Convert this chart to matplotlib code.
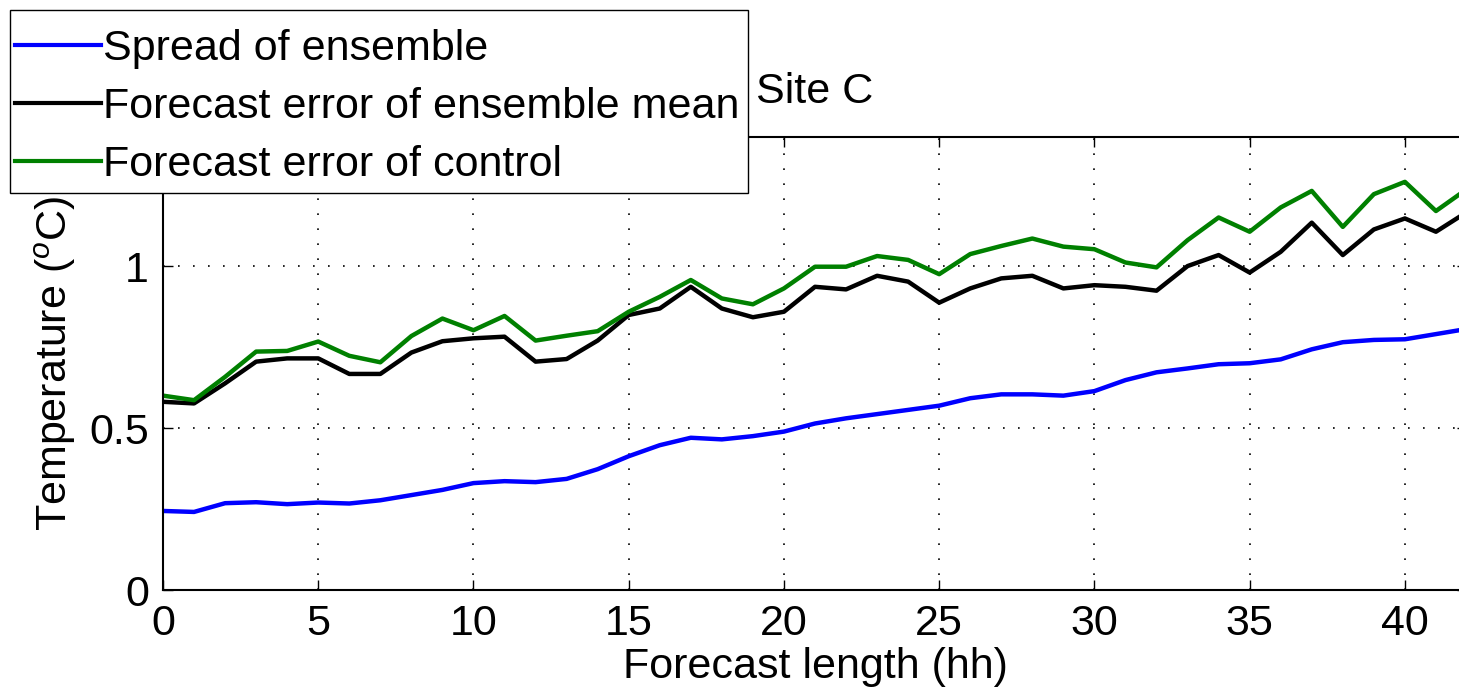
import matplotlib
matplotlib.use("Agg")
import matplotlib.pyplot as plt
from matplotlib.patches import Rectangle

# ── Data ───────────────────────────────────────────────────────────────────
lead_hours = list(range(0, 43))

spread = [0.244, 0.241, 0.268, 0.271, 0.265, 0.270, 0.267, 0.277, 0.293, 0.309,
          0.330, 0.336, 0.333, 0.343, 0.373, 0.413, 0.447, 0.470, 0.465, 0.475,
          0.489, 0.514, 0.530, 0.543, 0.556, 0.569, 0.592, 0.604, 0.604, 0.600,
          0.614, 0.648, 0.672, 0.684, 0.697, 0.700, 0.712, 0.743, 0.765, 0.772,
          0.774, 0.790, 0.806]

err_mean = [0.581, 0.576, 0.638, 0.705, 0.715, 0.715, 0.667, 0.667, 0.733, 0.768,
            0.777, 0.782, 0.705, 0.713, 0.770, 0.849, 0.869, 0.936, 0.869, 0.842,
            0.859, 0.936, 0.928, 0.970, 0.952, 0.887, 0.931, 0.962, 0.970, 0.931,
            0.941, 0.936, 0.924, 1.000, 1.034, 0.980, 1.044, 1.134, 1.034, 1.113,
            1.147, 1.106, 1.167]

err_control = [0.600, 0.586, 0.658, 0.736, 0.738, 0.767, 0.723, 0.703, 0.784, 0.838,
               0.802, 0.846, 0.770, 0.785, 0.799, 0.859, 0.905, 0.957, 0.900, 0.882,
               0.931, 0.998, 0.998, 1.031, 1.019, 0.975, 1.037, 1.062, 1.085, 1.060,
               1.052, 1.011, 0.996, 1.080, 1.150, 1.106, 1.181, 1.232, 1.121, 1.222,
               1.260, 1.170, 1.238]

series_labels = ["Spread of ensemble",
                 "Forecast error of ensemble mean",
                 "Forecast error of control"]
series_colors = ["#0000ff", "#000000", "#008000"]

xticks = [0, 5, 10, 15, 20, 25, 30, 35, 40]
yticks = [0, 0.5, 1]

# ── Style ──────────────────────────────────────────────────────────────────
plt.rcParams["font.family"] = ["Liberation Sans", "DejaVu Sans"]
plt.rcParams["mathtext.fontset"] = "custom"
plt.rcParams["mathtext.rm"] = "Liberation Sans"
plt.rcParams["mathtext.it"] = "Liberation Sans:italic"
FS = 31

W, H = 1459, 691
fig = plt.figure(figsize=(W / 100, H / 100), dpi=100)
x0, x1 = 163, 1467          # axes spans a bit past the right edge (cropped)
y_bot, y_top = 590, 136.5
ax = fig.add_axes([x0 / W, (H - y_bot) / H, (x1 - x0) / W, (y_bot - y_top) / H])

handles = []
for ys, lab, col in zip([spread, err_mean, err_control], series_labels, series_colors):
    h, = ax.plot(lead_hours, ys, color=col, lw=3.2, label=lab)
    handles.append(h)

ax.set_xlim(0, 42)
ax.set_ylim(0, 1.4)
ax.set_xticks(xticks)
ax.set_yticks(yticks)
ax.set_yticklabels(["0", "0.5", "1"])
ax.grid(True, color="black", linestyle=(0, (1, 8)), linewidth=1.2)
ax.tick_params(direction="in", length=7, width=1, labelsize=FS, pad=10,
               top=True, right=True)
for s in ax.spines.values():
    s.set_linewidth(1.5)

ax.set_xlabel("Forecast length (hh)", fontsize=FS, labelpad=2)
ax.set_ylabel(r"Temperature ($^{o}$C)", fontsize=FS, labelpad=8)
ax.set_title("Site C", fontsize=FS, pad=24)

# legend frame drawn as a figure patch, entries via a frameless figure legend
frame = Rectangle((10 / W, 1 - 193 / H), (748 - 10) / W, (193 - 10) / H,
                  transform=fig.transFigure, facecolor="white",
                  edgecolor="black", linewidth=1.0, zorder=3)
fig.patches.append(frame)

leg = fig.legend(handles, series_labels, loc="upper left",
                 bbox_to_anchor=(15 / W, 1 - 29 / H), borderaxespad=0,
                 borderpad=0, fontsize=FS, frameon=False,
                 handlelength=2.0, handletextpad=0.05, labelspacing=0.42)
leg.set_zorder(5)
for ln in leg.get_lines():
    ln.set_linewidth(3.0)

fig.savefig("out.png", dpi=100)
